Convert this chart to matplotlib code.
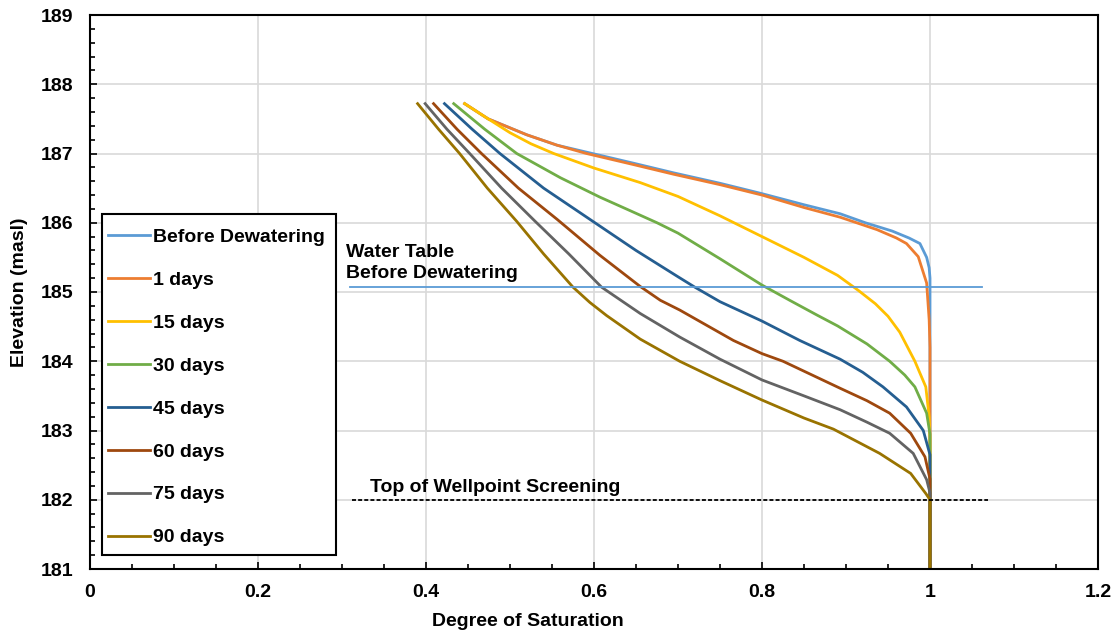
import numpy as np
import matplotlib.pyplot as plt
from matplotlib.patches import Rectangle

plt.rcParams['font.family'] = ['Liberation Sans', 'DejaVu Sans']
plt.rcParams['font.weight'] = 'bold'

# degree of saturation (x) vs elevation (y) for each curve
before_s = [0.446, 0.474, 0.52, 0.556, 0.591, 0.647, 0.695, 0.75, 0.8, 0.85, 0.893, 0.923, 0.955,
            0.975, 0.988, 0.996, 0.999, 1.0, 1.0]
before_e = [187.72, 187.5, 187.27, 187.12, 187.02, 186.86, 186.72, 186.57, 186.42, 186.26, 186.13, 186.0, 185.88,
            185.78, 185.7, 185.5, 185.35, 185.2, 181.0]

d1_s = [0.446, 0.474, 0.52, 0.556, 0.591, 0.647, 0.695, 0.75, 0.8, 0.85, 0.893, 0.937, 0.96,
        0.972, 0.986, 0.996, 0.999, 1.0, 1.0]
d1_e = [187.72, 187.5, 187.27, 187.12, 187.0, 186.84, 186.7, 186.55, 186.4, 186.22, 186.08, 185.9, 185.78,
        185.7, 185.51, 185.13, 184.6, 184.2, 181.0]

d15_s = [0.446, 0.474, 0.5, 0.525, 0.552, 0.6, 0.655, 0.7, 0.75, 0.8, 0.85, 0.89, 0.915, 0.935, 0.95,
         0.964, 0.982, 0.995, 0.999, 1.0, 1.0]
d15_e = [187.72, 187.5, 187.3, 187.14, 187.0, 186.79, 186.58, 186.38, 186.1, 185.8, 185.5, 185.24, 185.02, 184.83, 184.65,
         184.42, 184.0, 183.63, 183.2, 182.9, 181.0]

d30_s = [0.433, 0.47, 0.508, 0.56, 0.607, 0.642, 0.675, 0.7, 0.75, 0.8, 0.833, 0.865, 0.89, 0.925, 0.952,
         0.97, 0.982, 0.996, 1.0, 1.0]
d30_e = [187.72, 187.35, 187.0, 186.65, 186.37, 186.18, 186.0, 185.85, 185.48, 185.1, 184.88, 184.67, 184.51, 184.25, 184.0,
         183.8, 183.63, 183.25, 182.95, 181.0]

d45_s = [0.422, 0.455, 0.488, 0.54, 0.595, 0.65, 0.7, 0.72, 0.75, 0.8, 0.845, 0.893, 0.92, 0.944,
         0.972, 0.992, 1.0, 1.0]
d45_e = [187.72, 187.35, 187.0, 186.5, 186.05, 185.6, 185.22, 185.07, 184.86, 184.58, 184.3, 184.03, 183.84, 183.63,
         183.34, 183.0, 182.65, 181.0]

d60_s = [0.409, 0.437, 0.466, 0.51, 0.556, 0.607, 0.655, 0.679, 0.702, 0.766, 0.8, 0.825, 0.893, 0.925,
         0.952, 0.977, 0.994, 1.0, 1.0]
d60_e = [187.72, 187.35, 187.0, 186.5, 186.05, 185.53, 185.08, 184.88, 184.74, 184.3, 184.11, 184.0, 183.61, 183.43,
         183.25, 182.96, 182.62, 182.3, 181.0]

d75_s = [0.399, 0.425, 0.452, 0.49, 0.53, 0.57, 0.609, 0.655, 0.702, 0.75, 0.8, 0.85, 0.893, 0.925,
         0.952, 0.98, 0.996, 1.0, 1.0]
d75_e = [187.72, 187.35, 187.0, 186.5, 186.02, 185.55, 185.07, 184.69, 184.35, 184.03, 183.73, 183.5, 183.3, 183.12,
         182.96, 182.67, 182.29, 182.1, 181.0]

d90_s = [0.39, 0.415, 0.44, 0.473, 0.508, 0.54, 0.575, 0.595, 0.615, 0.655, 0.702, 0.75, 0.8, 0.85,
         0.885, 0.94, 0.977, 0.995, 1.0, 1.0]
d90_e = [187.72, 187.35, 187.0, 186.5, 186.02, 185.55, 185.07, 184.85, 184.66, 184.32, 184.0, 183.72, 183.44, 183.18,
         183.02, 182.67, 182.38, 182.09, 182.0, 181.0]

series = [
    ("Before Dewatering", before_s, before_e, "#5B9BD5"),
    ("1 days", d1_s, d1_e, "#ED7D31"),
    ("15 days", d15_s, d15_e, "#FFC000"),
    ("30 days", d30_s, d30_e, "#70AD47"),
    ("45 days", d45_s, d45_e, "#255E91"),
    ("60 days", d60_s, d60_e, "#9E480E"),
    ("75 days", d75_s, d75_e, "#636363"),
    ("90 days", d90_s, d90_e, "#997300"),
]

water_table = 185.07
water_table_x = [0.31, 1.062]
screen_top = 182.0
screen_x = [0.312, 1.069]

fig = plt.figure(figsize=(11.17, 6.34), dpi=100)
ax = fig.add_axes([90 / 1117, 65 / 634, 1008 / 1117, 554 / 634])

for name, s, e, c in series:
    ax.plot(s, e, color=c, lw=2.0, label=name, solid_joinstyle='round')

ax.plot(water_table_x, [water_table, water_table], color="#5B9BD5", lw=1.3)
ax.plot(screen_x, [screen_top, screen_top], color="black", lw=1.3, ls=(0, (2.2, 1.2)))

ax.text(0.305, 185.15, "Water Table\nBefore Dewatering", fontsize=14,
        fontweight='bold', ha='left', va='bottom', linespacing=1.3)
ax.text(0.333, 182.11, "Top of Wellpoint Screening", fontsize=14,
        fontweight='bold', ha='left', va='baseline')

ax.set_xlim(0, 1.2)
ax.set_ylim(181, 189)
ax.set_xticks(np.arange(0, 1.21, 0.2))
ax.set_xticklabels(["0", "0.2", "0.4", "0.6", "0.8", "1", "1.2"])
ax.set_yticks(np.arange(181, 190, 1))
ax.set_xticks(np.arange(0, 1.21, 0.05), minor=True)
ax.set_yticks(np.arange(181, 189.01, 0.2), minor=True)
ax.grid(True, which='major', color="#D9D9D9", lw=1.2)
ax.set_axisbelow(True)

ax.tick_params(which='both', direction='in', width=1.2, labelsize=14)
ax.tick_params(which='major', length=5)
ax.tick_params(which='minor', length=3.5)
ax.tick_params(axis='y', pad=12)
ax.tick_params(axis='x', pad=11)
for sp in ax.spines.values():
    sp.set_linewidth(1.5)

ax.set_xlabel("Degree of Saturation", fontsize=14, fontweight='bold')
ax.set_ylabel("Elevation (masl)", fontsize=14, fontweight='bold')
ax.xaxis.set_label_coords(0.4345, -0.079)
ax.yaxis.set_label_coords(-0.062, 0.5)

# legend box
ax.add_patch(Rectangle((0.0119, 0.0253), 0.2321, 0.6155, transform=ax.transAxes,
                       facecolor='white', edgecolor='black', lw=1.5, zorder=4))
leg = ax.legend(loc='upper left', bbox_to_anchor=(0.0179, 0.6146), fontsize=14,
                frameon=False, handlelength=2.16, handletextpad=0.15,
                labelspacing=1.3, borderpad=0, borderaxespad=0)
leg.set_zorder(5)
for t in leg.get_texts():
    t.set_fontweight('bold')

fig.savefig("out.png", dpi=100)
